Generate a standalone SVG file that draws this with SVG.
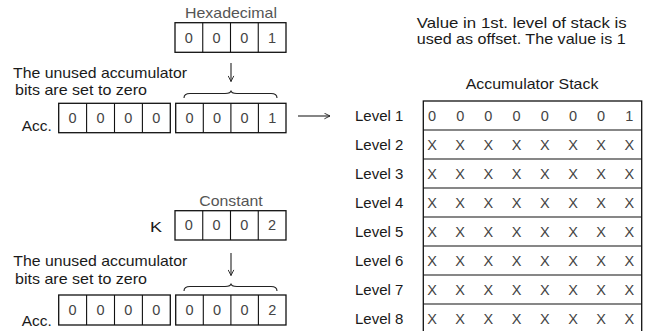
<svg xmlns="http://www.w3.org/2000/svg" width="645" height="331" viewBox="0 0 645 331">
<style>
text{font-family:"Liberation Sans",Arial,Helvetica,sans-serif;font-size:14.5px;fill:#1a1a1a}
.g{fill:#555}
.c{fill:#444;text-anchor:middle}
.box{fill:#fff;stroke:#111;stroke-width:1.3}
.div{stroke:#111;stroke-width:1.1}
.ln{fill:none;stroke:#222;stroke-width:1.1}
</style>
<defs>
<marker id="ah" viewBox="0 0 10 10" refX="9" refY="5" markerWidth="7" markerHeight="7" orient="auto" markerUnits="userSpaceOnUse">
<path d="M1,1 L9,5 L1,9" fill="none" stroke="#222" stroke-width="1.3"/>
</marker>
</defs>

<g id="hex">
<text class="g" x="185" y="17.5" textLength="92" lengthAdjust="spacingAndGlyphs">Hexadecimal</text>
<rect class="box" x="175" y="22.7" width="111" height="29.6"/>
<path class="div" d="M202.75,22.7V52.3M230.5,22.7V52.3M258.25,22.7V52.3"/>
<text class="c" x="188.9" y="42.5">0</text><text class="c" x="216.6" y="42.5">0</text><text class="c" x="244.4" y="42.5">0</text><text class="c" x="272.1" y="42.5">1</text>
</g>

<g id="note1">
<text x="13" y="78" textLength="174" lengthAdjust="spacingAndGlyphs">The unused accumulator</text>
<text x="15" y="95" textLength="132" lengthAdjust="spacingAndGlyphs">bits are set to zero</text>
</g>

<g id="acc1">
<text x="21.7" y="130.5" textLength="30" lengthAdjust="spacingAndGlyphs">Acc.</text>
<rect class="box" x="58.7" y="103.3" width="111.6" height="29.4"/>
<path class="div" d="M86.6,103.3V132.7M114.5,103.3V132.7M142.4,103.3V132.7"/>
<text class="c" x="72.6" y="123.2">0</text><text class="c" x="100.5" y="123.2">0</text><text class="c" x="128.4" y="123.2">0</text><text class="c" x="156.3" y="123.2">0</text>
<rect class="box" x="175.7" y="103.3" width="110.3" height="29.4"/>
<path class="div" d="M203.3,103.3V132.7M230.9,103.3V132.7M258.4,103.3V132.7"/>
<text class="c" x="189.5" y="123.2">0</text><text class="c" x="217.1" y="123.2">0</text><text class="c" x="244.6" y="123.2">0</text><text class="c" x="272.2" y="123.2">1</text>
</g>

<g id="const">
<text class="g" x="199.3" y="205.5" textLength="63.4" lengthAdjust="spacingAndGlyphs">Constant</text>
<text x="150" y="231.5" textLength="12" lengthAdjust="spacingAndGlyphs">K</text>
<rect class="box" x="175" y="210.7" width="111" height="29.3"/>
<path class="div" d="M202.75,210.7V240M230.5,210.7V240M258.25,210.7V240"/>
<text class="c" x="188.9" y="230.4">0</text><text class="c" x="216.6" y="230.4">0</text><text class="c" x="244.4" y="230.4">0</text><text class="c" x="272.1" y="230.4">2</text>
</g>

<g id="note2">
<text x="13.3" y="266" textLength="174" lengthAdjust="spacingAndGlyphs">The unused accumulator</text>
<text x="15" y="284" textLength="132" lengthAdjust="spacingAndGlyphs">bits are set to zero</text>
</g>

<g id="acc2">
<text x="21.7" y="325.5" textLength="30" lengthAdjust="spacingAndGlyphs">Acc.</text>
<rect class="box" x="58.7" y="295" width="111.6" height="30"/>
<path class="div" d="M86.6,295V325M114.5,295V325M142.4,295V325"/>
<text class="c" x="72.6" y="315">0</text><text class="c" x="100.5" y="315">0</text><text class="c" x="128.4" y="315">0</text><text class="c" x="156.3" y="315">0</text>
<rect class="box" x="175.7" y="295" width="110.3" height="30"/>
<path class="div" d="M203.3,295V325M230.9,295V325M258.4,295V325"/>
<text class="c" x="189.5" y="315">0</text><text class="c" x="217.1" y="315">0</text><text class="c" x="244.6" y="315">0</text><text class="c" x="272.2" y="315">2</text>
</g>

<g id="caption">
<text x="416.7" y="28.3" textLength="210" lengthAdjust="spacingAndGlyphs">Value in 1st. level of stack is</text>
<text x="416.7" y="44.3" textLength="209" lengthAdjust="spacingAndGlyphs">used as offset. The value is 1</text>
</g>

<g id="stack">
<text x="465.7" y="89" textLength="132.7" lengthAdjust="spacingAndGlyphs">Accumulator Stack</text>
<rect class="box" x="423.3" y="101" width="218.4" height="240"/>
<path class="div" d="M423.3,130H641.7M423.3,159H641.7M423.3,188H641.7M423.3,217H641.7M423.3,246H641.7M423.3,275H641.7M423.3,304H641.7" stroke-width="1.5"/>
<g>
<text x="355" y="121" textLength="48.3" lengthAdjust="spacingAndGlyphs">Level 1</text>
<text x="355" y="150" textLength="48.3" lengthAdjust="spacingAndGlyphs">Level 2</text>
<text x="355" y="179" textLength="48.3" lengthAdjust="spacingAndGlyphs">Level 3</text>
<text x="355" y="208" textLength="48.3" lengthAdjust="spacingAndGlyphs">Level 4</text>
<text x="355" y="237" textLength="48.3" lengthAdjust="spacingAndGlyphs">Level 5</text>
<text x="355" y="266" textLength="48.3" lengthAdjust="spacingAndGlyphs">Level 6</text>
<text x="355" y="295" textLength="48.3" lengthAdjust="spacingAndGlyphs">Level 7</text>
<text x="355" y="324" textLength="48.3" lengthAdjust="spacingAndGlyphs">Level 8</text>
</g>
<g>
<text class="c" x="432" y="120.5">0</text><text class="c" x="460.2" y="120.5">0</text><text class="c" x="488.4" y="120.5">0</text><text class="c" x="516.6" y="120.5">0</text><text class="c" x="544.8" y="120.5">0</text><text class="c" x="573" y="120.5">0</text><text class="c" x="601.1" y="120.5">0</text><text class="c" x="629.3" y="120.5">1</text>
</g>
<g id="xrows">
<text class="c" y="149.5"><tspan x="432">X</tspan><tspan x="460.2">X</tspan><tspan x="488.4">X</tspan><tspan x="516.6">X</tspan><tspan x="544.8">X</tspan><tspan x="573">X</tspan><tspan x="601.1">X</tspan><tspan x="629.3">X</tspan></text>
<text class="c" y="178.5"><tspan x="432">X</tspan><tspan x="460.2">X</tspan><tspan x="488.4">X</tspan><tspan x="516.6">X</tspan><tspan x="544.8">X</tspan><tspan x="573">X</tspan><tspan x="601.1">X</tspan><tspan x="629.3">X</tspan></text>
<text class="c" y="207.5"><tspan x="432">X</tspan><tspan x="460.2">X</tspan><tspan x="488.4">X</tspan><tspan x="516.6">X</tspan><tspan x="544.8">X</tspan><tspan x="573">X</tspan><tspan x="601.1">X</tspan><tspan x="629.3">X</tspan></text>
<text class="c" y="236.5"><tspan x="432">X</tspan><tspan x="460.2">X</tspan><tspan x="488.4">X</tspan><tspan x="516.6">X</tspan><tspan x="544.8">X</tspan><tspan x="573">X</tspan><tspan x="601.1">X</tspan><tspan x="629.3">X</tspan></text>
<text class="c" y="265.5"><tspan x="432">X</tspan><tspan x="460.2">X</tspan><tspan x="488.4">X</tspan><tspan x="516.6">X</tspan><tspan x="544.8">X</tspan><tspan x="573">X</tspan><tspan x="601.1">X</tspan><tspan x="629.3">X</tspan></text>
<text class="c" y="294.5"><tspan x="432">X</tspan><tspan x="460.2">X</tspan><tspan x="488.4">X</tspan><tspan x="516.6">X</tspan><tspan x="544.8">X</tspan><tspan x="573">X</tspan><tspan x="601.1">X</tspan><tspan x="629.3">X</tspan></text>
<text class="c" y="323.5"><tspan x="432">X</tspan><tspan x="460.2">X</tspan><tspan x="488.4">X</tspan><tspan x="516.6">X</tspan><tspan x="544.8">X</tspan><tspan x="573">X</tspan><tspan x="601.1">X</tspan><tspan x="629.3">X</tspan></text>
</g>
</g>

<g id="connectors">
<path class="ln" d="M231,63V81.5" marker-end="url(#ah)"/>
<path class="ln" d="M231,253V275.5" marker-end="url(#ah)"/>
<path class="ln" d="M298,116H330" marker-end="url(#ah)"/>
<path class="ln" d="M184,98Q184,93.5 190,93.5L225,93.5Q231,93.5 231,90.5Q231,93.5 237,93.5L271,93.5Q277,93.5 277,98"/>
<path class="ln" d="M184,291Q184,286.5 190,286.5L225,286.5Q231,286.5 231,283.5Q231,286.5 237,286.5L271,286.5Q277,286.5 277,291"/>
</g>
</svg>
